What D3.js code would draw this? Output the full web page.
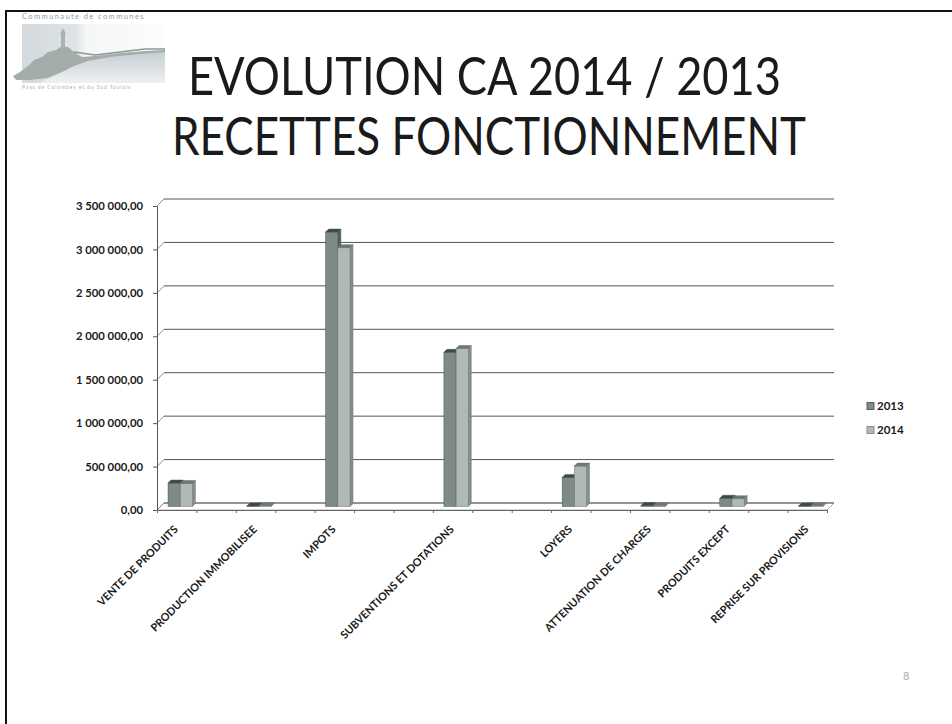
<!DOCTYPE html>
<html>
<head>
<meta charset="utf-8">
<script src="https://cdn.jsdelivr.net/npm/d3@7"></script>
<style>
  html, body { margin: 0; padding: 0; background: #fff; }
  svg { display: block; }
</style>
</head>
<body>
<svg id="chart" width="952" height="724"></svg>
<script>
// ---------- DATA ----------
const titleLines = ["EVOLUTION CA 2014 / 2013", "RECETTES FONCTIONNEMENT"];
const categories = [
  "VENTE DE PRODUITS", "", "PRODUCTION IMMOBILISEE", "", "IMPOTS", "", "",
  "SUBVENTIONS ET DOTATIONS", "", "", "LOYERS", "", "ATTENUATION DE CHARGES", "",
  "PRODUITS EXCEPT", "", "REPRISE SUR PROVISIONS"
];
const seriesNames = ["2013", "2014"];
const values2013 = [270000, null, 6000, null, 3160000, null, null, 1775000, null, null, 335000, null, 12000, null, 95000, null, 6000];
const values2014 = [265000, null, 10000, null, 2980000, null, null, 1820000, null, null, 465000, null, 8000, null, 90000, null, 10000];
const yTicks = [0, 500000, 1000000, 1500000, 2000000, 2500000, 3000000, 3500000];
const pageNumber = "8";

// ---------- SETUP ----------
const svg = d3.select("#chart");
const W = 952, H = 724;
svg.append("rect").attr("width", W).attr("height", H).attr("fill", "#fff");

// slide frame
svg.append("path")
  .attr("d", `M6,${H + 5} L6,11 L${W + 5},11`)
  .attr("fill", "none").attr("stroke", "#111").attr("stroke-width", 2);

// ---------- LOGO ----------
const defs = svg.append("defs");
const lg = defs.append("linearGradient").attr("id", "sky").attr("x1", 0).attr("y1", 0).attr("x2", 1).attr("y2", 0);
lg.append("stop").attr("offset", 0).attr("stop-color", "#d3d9dc");
lg.append("stop").attr("offset", 0.38).attr("stop-color", "#dfe4e6");
lg.append("stop").attr("offset", 0.45).attr("stop-color", "#f4f6f7");
lg.append("stop").attr("offset", 1).attr("stop-color", "#fcfdfd");
const lg2 = defs.append("linearGradient").attr("id", "ground").attr("x1", 0).attr("y1", 0).attr("x2", 0).attr("y2", 1);
lg2.append("stop").attr("offset", 0).attr("stop-color", "#c5cdd1");
lg2.append("stop").attr("offset", 1).attr("stop-color", "#eef1f2");
const logo = svg.append("g").attr("class", "logo");
logo.append("rect").attr("x", 22).attr("y", 24).attr("width", 142).attr("height", 59).attr("fill", "url(#sky)");
logo.append("path")
  .attr("d", "M40,83 L70,66 L100,58 L140,53 L165,51 L165,83 Z")
  .attr("fill", "url(#ground)");
logo.append("path")
  .attr("d", "M13,76 L20,72 L28,66 L34,60 L42,57 L48,52 L56,50 L62,46 L68,47 L74,52 L82,57 L95,56 L120,53 L145,51 L165,50 L165,52 L140,54 L110,57 L88,61 L74,66 L62,72 L48,78 L30,80 L16,80 Z")
  .attr("fill", "#a3aeaa");
logo.append("path")
  .attr("d", "M74,52 L95,55 L120,52 L145,49 L165,49")
  .attr("fill", "none").attr("stroke", "#8d9894").attr("stroke-width", 1.4);
logo.append("rect").attr("x", 61).attr("y", 33).attr("width", 4).attr("height", 15).attr("fill", "#a9b3af");
logo.append("path").attr("d", "M60,34 L63,28 L66,34 Z").attr("fill", "#a9b3af");
logo.append("text").attr("x", 22).attr("y", 19)
  .attr("font-family", "Lato, sans-serif").attr("font-size", 7.5)
  .attr("letter-spacing", 1.4).attr("fill", "#939da1")
  .text("Communaute de communes");
logo.append("text").attr("x", 22).attr("y", 89)
  .attr("font-family", "Lato, sans-serif").attr("font-size", 5)
  .attr("letter-spacing", 0.9).attr("fill", "#a8b0b3")
  .text("Pays de Colombey et du Sud Toulois");

// ---------- TITLE ----------
const titleG = svg.append("g").attr("font-family", "Lato, 'Open Sans', sans-serif").attr("fill", "#1a1a1a");
titleG.append("text").attr("x", 188).attr("y", 95)
  .attr("font-size", 52).attr("textLength", 593).attr("lengthAdjust", "spacingAndGlyphs")
  .text(titleLines[0]);
titleG.append("text").attr("x", 172).attr("y", 155)
  .attr("font-size", 52).attr("textLength", 634).attr("lengthAdjust", "spacingAndGlyphs")
  .text(titleLines[1]);

// ---------- CHART ----------
const left = 157, right = 827, yZero = 510, yMax = 206;
const D = 7;     // depth of back wall
const f = 3.5;   // bar front offset
const bd = 3;    // bar depth

const n = categories.length;
const xLin = d3.scaleLinear().domain([0, n]).range([left, right]);
const xBand = d3.scaleBand().domain(d3.range(n)).range([left, right]);
const xSeries = d3.scaleBand().domain(seriesNames).range([0, xBand.bandwidth()]).paddingInner(0).paddingOuter(0.62);
const y = d3.scaleLinear().domain([0, 3500000]).range([yZero, yMax]);

const frLocale = d3.formatLocale({ decimal: ",", thousands: " ", grouping: [3], currency: ["", " €"] });
const fmt = frLocale.format(",.2f");

const chart = svg.append("g");

// floor
chart.append("path")
  .attr("d", `M${left},${yZero} L${right},${yZero} L${right + D},${yZero - D} L${left + D},${yZero - D} Z`)
  .attr("fill", "#fff").attr("stroke", "#9a9a9a").attr("stroke-width", 0.8);

// back-wall gridlines + left-wall diagonals
const grid = chart.append("g");
grid.selectAll("line.g").data(yTicks).join("line").attr("class", "g")
  .attr("x1", left + D).attr("x2", right + D)
  .attr("y1", d => y(d) - D).attr("y2", d => y(d) - D)
  .attr("stroke", "#555").attr("stroke-width", 1);
grid.selectAll("line.w").data(yTicks).join("line").attr("class", "w")
  .attr("x1", left).attr("x2", left + D)
  .attr("y1", d => y(d)).attr("y2", d => y(d) - D)
  .attr("stroke", "#707070").attr("stroke-width", 0.8);

// y axis
const yAxis = d3.axisLeft(y).tickValues(yTicks).tickFormat(fmt).tickSize(4).tickSizeOuter(0).tickPadding(10);
const yG = chart.append("g").attr("transform", `translate(${left},0)`).call(yAxis);
yG.select(".domain").attr("stroke", "#555");
yG.selectAll(".tick line").attr("stroke", "#555");
yG.selectAll(".tick text")
  .attr("font-family", "Lato, sans-serif").attr("font-weight", 700)
  .attr("font-size", 11.3).attr("fill", "#1a1a1a");

// x axis (ticks at category boundaries)
const xAxis = d3.axisBottom(xLin).tickValues(d3.range(n + 1)).tickFormat("").tickSize(3).tickSizeOuter(0);
const xG = chart.append("g").attr("transform", `translate(0,${yZero})`).call(xAxis);
xG.select(".domain").attr("stroke", "#666");
xG.selectAll(".tick line").attr("stroke", "#666");

// category labels
chart.append("g").selectAll("text")
  .data(categories.map((c, i) => ({ c, i })).filter(d => d.c !== ""))
  .join("text")
  .attr("transform", d => `translate(${xBand(d.i) + xBand.bandwidth() / 2 + 2},${yZero + 20}) rotate(-45)`)
  .attr("text-anchor", "end")
  .attr("font-family", "Lato, sans-serif").attr("font-weight", 700)
  .attr("font-size", 10.8).attr("fill", "#1a1a1a")
  .text(d => d.c);

// bars (3D boxes)
const colors = {
  "2013": { front: "#7d8b84", side: "#56625c", top: "#3f4944", stroke: "#48524d" },
  "2014": { front: "#b0b9b4", side: "#868f8a", top: "#6f7974", stroke: "#6a746f" }
};
const barData = [];
categories.forEach((c, i) => {
  [values2013[i], values2014[i]].forEach((v, k) => {
    if (v !== null) barData.push({ i, s: seriesNames[k], v });
  });
});
const bw = xSeries.bandwidth();
const barsG = chart.append("g");
const bars = barsG.selectAll("g.bar").data(barData).join("g").attr("class", "bar");
bars.each(function (d) {
  const g = d3.select(this);
  const c = colors[d.s];
  const x0 = xBand(d.i) + xSeries(d.s) + f;
  const x1 = x0 + bw;
  const yb = y(0) - f;
  const yt = y(d.v) - f;
  // side face
  g.append("path")
    .attr("d", `M${x1},${yt} L${x1 + bd},${yt - bd} L${x1 + bd},${yb - bd} L${x1},${yb} Z`)
    .attr("fill", c.side).attr("stroke", c.stroke).attr("stroke-width", 0.5);
  // front face
  g.append("rect").attr("x", x0).attr("y", yt).attr("width", bw).attr("height", Math.max(0.5, yb - yt))
    .attr("fill", c.front).attr("stroke", c.stroke).attr("stroke-width", 0.5);
  // top face
  g.append("path")
    .attr("d", `M${x0},${yt} L${x0 + bd},${yt - bd} L${x1 + bd},${yt - bd} L${x1},${yt} Z`)
    .attr("fill", c.top).attr("stroke", c.stroke).attr("stroke-width", 0.5);
});

// legend
const legend = svg.append("g");
seriesNames.forEach((s, k) => {
  const ly = 406 + k * 24;
  legend.append("rect").attr("x", 867).attr("y", ly - 3.5).attr("width", 7).attr("height", 7)
    .attr("fill", colors[s].front).attr("stroke", colors[s].side).attr("stroke-width", 1);
  legend.append("text").attr("x", 877).attr("y", ly + 4)
    .attr("font-family", "Lato, sans-serif").attr("font-weight", 700)
    .attr("font-size", 11.5).attr("fill", "#1a1a1a").text(s);
});

// page number
svg.append("text").attr("x", 903).attr("y", 680)
  .attr("font-family", "Lato, sans-serif").attr("font-size", 11)
  .attr("fill", "#aaaaaa").text(pageNumber);
</script>
</body>
</html>
